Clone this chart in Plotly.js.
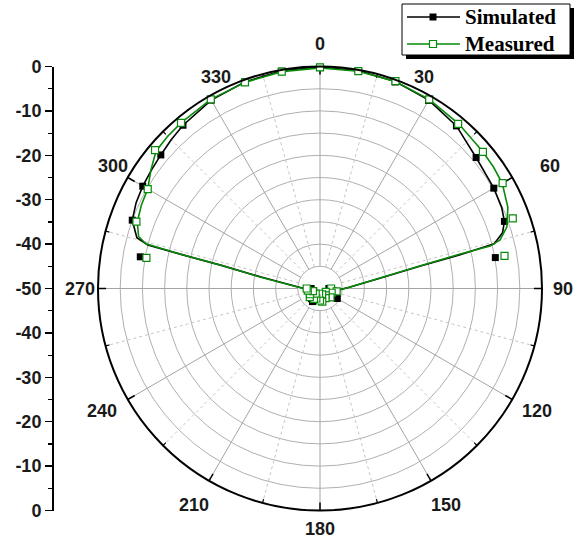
<!DOCTYPE html>
<html>
<head>
<meta charset="utf-8">
<script src="https://cdn.plot.ly/plotly-3.0.1.min.js"></script>
<style>html,body{margin:0;padding:0;background:#fff;}#chart{width:578px;height:543px;}</style>
</head>
<body>
<div id="chart"></div>
<script>
// ---------- data ----------
const seriesNames = ["Simulated", "Measured"];

// dense curve (lines)
const simLineTheta = [0,10,20,30,40,50,60,66,70,73,75.6,76.5,77.5,80.3,87.5,99,120,150,180,210,240,262,268,276.7,281,283.2,283.8,284.2,285.5,290,295,300,305,310,315,320,330,340,350,360];
const simLineR     = [-0.1,-0.2,-0.4,-1.0,-2.2,-4.1,-4.8,-5.2,-5.8,-7.0,-9.5,-17.9,-27.2,-36.5,-43.4,-46.6,-47.5,-48,-48,-47.5,-48,-47.5,-46.8,-43.4,-36.5,-27.2,-18,-10,-7.2,-5.0,-4.3,-3.9,-3.6,-3.2,-2.6,-2.0,-1.0,-0.5,-0.2,-0.1];

const measLineTheta = [0,10,20,30,40,50,55,60,66.6,71.8,74.9,76.0,76.2,77.3,80.1,87.1,98.9,120,150,180,210,240,262,268,276.7,280.9,283.2,283.8,284.4,286,290,295,300,305,310,315,320,330,340,350,360];
const measLineR     = [-0.3,-0.3,-0.4,-0.8,-1.5,-2.1,-2.3,-2.6,-3.9,-5.7,-8.0,-10.5,-17.7,-27.0,-36.3,-43.2,-46.4,-47.3,-47.8,-47.6,-47.6,-47.8,-47.3,-46.6,-43.2,-36.2,-26.9,-17.7,-9.5,-7.5,-6.2,-5.6,-5.2,-3.5,-1.8,-1.5,-1.3,-0.8,-0.6,-0.4,-0.3];

// markers every 10 degrees
const markTheta = [0,10,20,30,40,50,60,70,80,90,100,110,120,130,140,150,160,170,180,190,200,210,220,230,240,250,260,270,280,290,300,310,320,330,340,350];
const simMarkR  = [-0.2,-0.3,-0.5,-1.1,-2.2,-4.1,-4.8,-5.8,-9.9,-48,-47,-46.5,-45.5,-47,-48,-47.5,-48.5,-48,-47.5,-48,-47.5,-46.6,-47,-48,-47.5,-48.5,-47.5,-48,-8.9,-5.0,-3.9,-3.2,-2.0,-1.0,-0.5,-0.3];
const measMarkR = [-0.2,-0.3,-0.3,-0.8,-1.6,-2.1,-2.5,-3.8,-7.8,-47.5,-46.2,-47.2,-48.5,-46.9,-48.0,-47.5,-48.6,-47.0,-47.3,-48.8,-47.6,-47.3,-48.5,-47.0,-47.4,-48.3,-47.2,-47.0,-10.3,-6.0,-5.2,-1.5,-1.3,-0.8,-0.6,-0.4];

// axis tick labels
const angTickVals = [0,30,60,90,120,150,180,210,240,270,300,330];
const leftTickVals = [50,40,30,20,10,0,-10,-20,-30,-40,-50];
const leftTickText = ["0","-10","-20","-30","-40","-50","-40","-30","-20","-10","0"];

// ---------- styling / geometry ----------
const W = 578, H = 543;
const px = x => x / W, py = y => 1 - y / H;
const BLACK = "#000000", GREEN = "#0a8a0a";
const RMIN = -50, RMAX = 0, RIN = -45;

// pixel placement of the angular tick labels (as placed in the original figure)
const angLabelPos = [[320,44],[424,77],[550,166],[563,289],[537,411],[446,505],[320,529],[194,505],[102,411],[80,289],[113,166],[216,77]];

// grid spokes (decoration built from tick angles)
function spokes(angles, r0, r1) {
  const th = [], rr = [];
  angles.forEach(a => { th.push(a, a, null); rr.push(r0, r1, null); });
  return {theta: th, r: rr};
}
const majorAngles = angTickVals;
const minorAngles = angTickVals.map(a => a + 15);
const spMaj = spokes(majorAngles, RIN, RMAX);
const spMin = spokes(minorAngles, RIN, RMAX);
const tkMaj = spokes(majorAngles, -1.8, RMAX);
const tkMin = spokes(minorAngles, -0.9, RMAX);

const deco = (s, color, width, dash) => ({
  type: "scatterpolar", mode: "lines", theta: s.theta, r: s.r,
  line: {color: color, width: width, dash: dash || "solid"},
  connectgaps: false, hoverinfo: "skip", showlegend: false
});

const traces = [
  deco(spMin, "#c4c4c4", 1, "dot"),
  deco(spMaj, "#a4a4a4", 1),
  deco(tkMaj, BLACK, 1.5),
  deco(tkMin, BLACK, 1.2),
  {type: "scatterpolar", mode: "lines", name: seriesNames[0], theta: simLineTheta, r: simLineR,
   line: {color: BLACK, width: 1.6}, showlegend: false},
  {type: "scatterpolar", mode: "markers", name: seriesNames[0], theta: markTheta, r: simMarkR,
   marker: {symbol: "square", size: 7, color: BLACK, line: {width: 0}}, showlegend: false},
  {type: "scatterpolar", mode: "lines", name: seriesNames[1], theta: measLineTheta, r: measLineR,
   line: {color: GREEN, width: 1.6}, showlegend: false},
  {type: "scatterpolar", mode: "markers", name: seriesNames[1], theta: markTheta, r: measMarkR,
   marker: {symbol: "square", size: 7, color: "#ffffff", line: {color: GREEN, width: 1.2}}, showlegend: false},
  // carrier for left linear scale axis
  {type: "scatter", x: [0.5], y: [0], xaxis: "x", yaxis: "y", mode: "markers",
   marker: {opacity: 0}, hoverinfo: "skip", showlegend: false}
];

const axisFont = {family: "Liberation Sans, Arial, sans-serif", size: 18, color: "#1a1a1a", weight: "bold"};
const legFont = {family: "Liberation Serif, Times New Roman, serif", size: 21, color: "#000", weight: "bold"};

// manual legend
const L = {x0: 402, x1: 570, y0: 4, y1: 55, sh: 4, row1: 17, row2: 44, lx0: 407, lx1: 460, mx: 433, tx: 463};
const shapes = [
  {type: "rect", xref: "paper", yref: "paper", x0: px(L.x0 + L.sh), x1: px(L.x1 + L.sh), y0: py(L.y0 + L.sh), y1: py(L.y1 + L.sh),
   fillcolor: "#000", line: {width: 0}},
  {type: "rect", xref: "paper", yref: "paper", x0: px(L.x0), x1: px(L.x1), y0: py(L.y0), y1: py(L.y1),
   fillcolor: "#fff", line: {color: "#000", width: 1}},
  {type: "line", xref: "paper", yref: "paper", x0: px(L.lx0), x1: px(L.lx1), y0: py(L.row1), y1: py(L.row1),
   line: {color: BLACK, width: 1.6}},
  {type: "rect", xref: "paper", yref: "paper", x0: px(L.mx - 3.5), x1: px(L.mx + 3.5), y0: py(L.row1 + 3.5), y1: py(L.row1 - 3.5),
   fillcolor: BLACK, line: {width: 0}},
  {type: "line", xref: "paper", yref: "paper", x0: px(L.lx0), x1: px(L.lx1), y0: py(L.row2), y1: py(L.row2),
   line: {color: GREEN, width: 1.6}},
  {type: "rect", xref: "paper", yref: "paper", x0: px(L.mx - 3.5), x1: px(L.mx + 3.5), y0: py(L.row2 + 3.5), y1: py(L.row2 - 3.5),
   fillcolor: "#fff", line: {color: GREEN, width: 1.2}}
];
const annotations = [
  {xref: "paper", yref: "paper", x: px(L.tx), y: py(L.row1), text: seriesNames[0], showarrow: false, xanchor: "left", yanchor: "middle", font: legFont},
  {xref: "paper", yref: "paper", x: px(L.tx), y: py(L.row2), text: seriesNames[1], showarrow: false, xanchor: "left", yanchor: "middle", font: legFont}
].concat(angTickVals.map((a, i) => ({
  xref: "paper", yref: "paper", x: px(angLabelPos[i][0]), y: py(angLabelPos[i][1]),
  text: String(a), showarrow: false, xanchor: "center", yanchor: "middle", font: axisFont
})));

const layout = {
  width: W, height: H,
  margin: {l: 0, r: 0, t: 0, b: 0, pad: 0},
  paper_bgcolor: "#fff", plot_bgcolor: "rgba(0,0,0,0)",
  showlegend: false,
  polar: {
    domain: {x: [px(98), px(542)], y: [py(510.5), py(66.5)]},
    bgcolor: "#fff",
    radialaxis: {range: [RMIN, RMAX], tick0: 0, dtick: 5, showticklabels: false, ticks: "",
                 showline: false, gridcolor: "#b0b0b0", gridwidth: 1},
    angularaxis: {rotation: 90, direction: "clockwise", tickmode: "array", tickvals: angTickVals,
                  showticklabels: false, showgrid: false, showline: true,
                  linecolor: "#000", linewidth: 2, ticks: ""}
  },
  xaxis: {domain: [px(60), px(70)], range: [0, 1], visible: false, fixedrange: true},
  yaxis: {anchor: "free", position: px(52), domain: [py(510.5), py(66.5)], range: [-50, 50],
          tickmode: "array", tickvals: leftTickVals, ticktext: leftTickText,
          ticks: "outside", ticklen: 7, tickwidth: 1.3, tickcolor: "#000",
          showline: true, linecolor: "#000", linewidth: 1.5, showgrid: false, zeroline: false,
          tickfont: axisFont,
          minor: {tickmode: "array", tickvals: [45,35,25,15,5,-5,-15,-25,-35,-45], ticks: "outside", ticklen: 4, tickwidth: 1.2, tickcolor: "#000", showgrid: false}},
  shapes: shapes,
  annotations: annotations
};

Plotly.newPlot("chart", traces, layout, {displayModeBar: false, staticPlot: true});
</script>
</body>
</html>
